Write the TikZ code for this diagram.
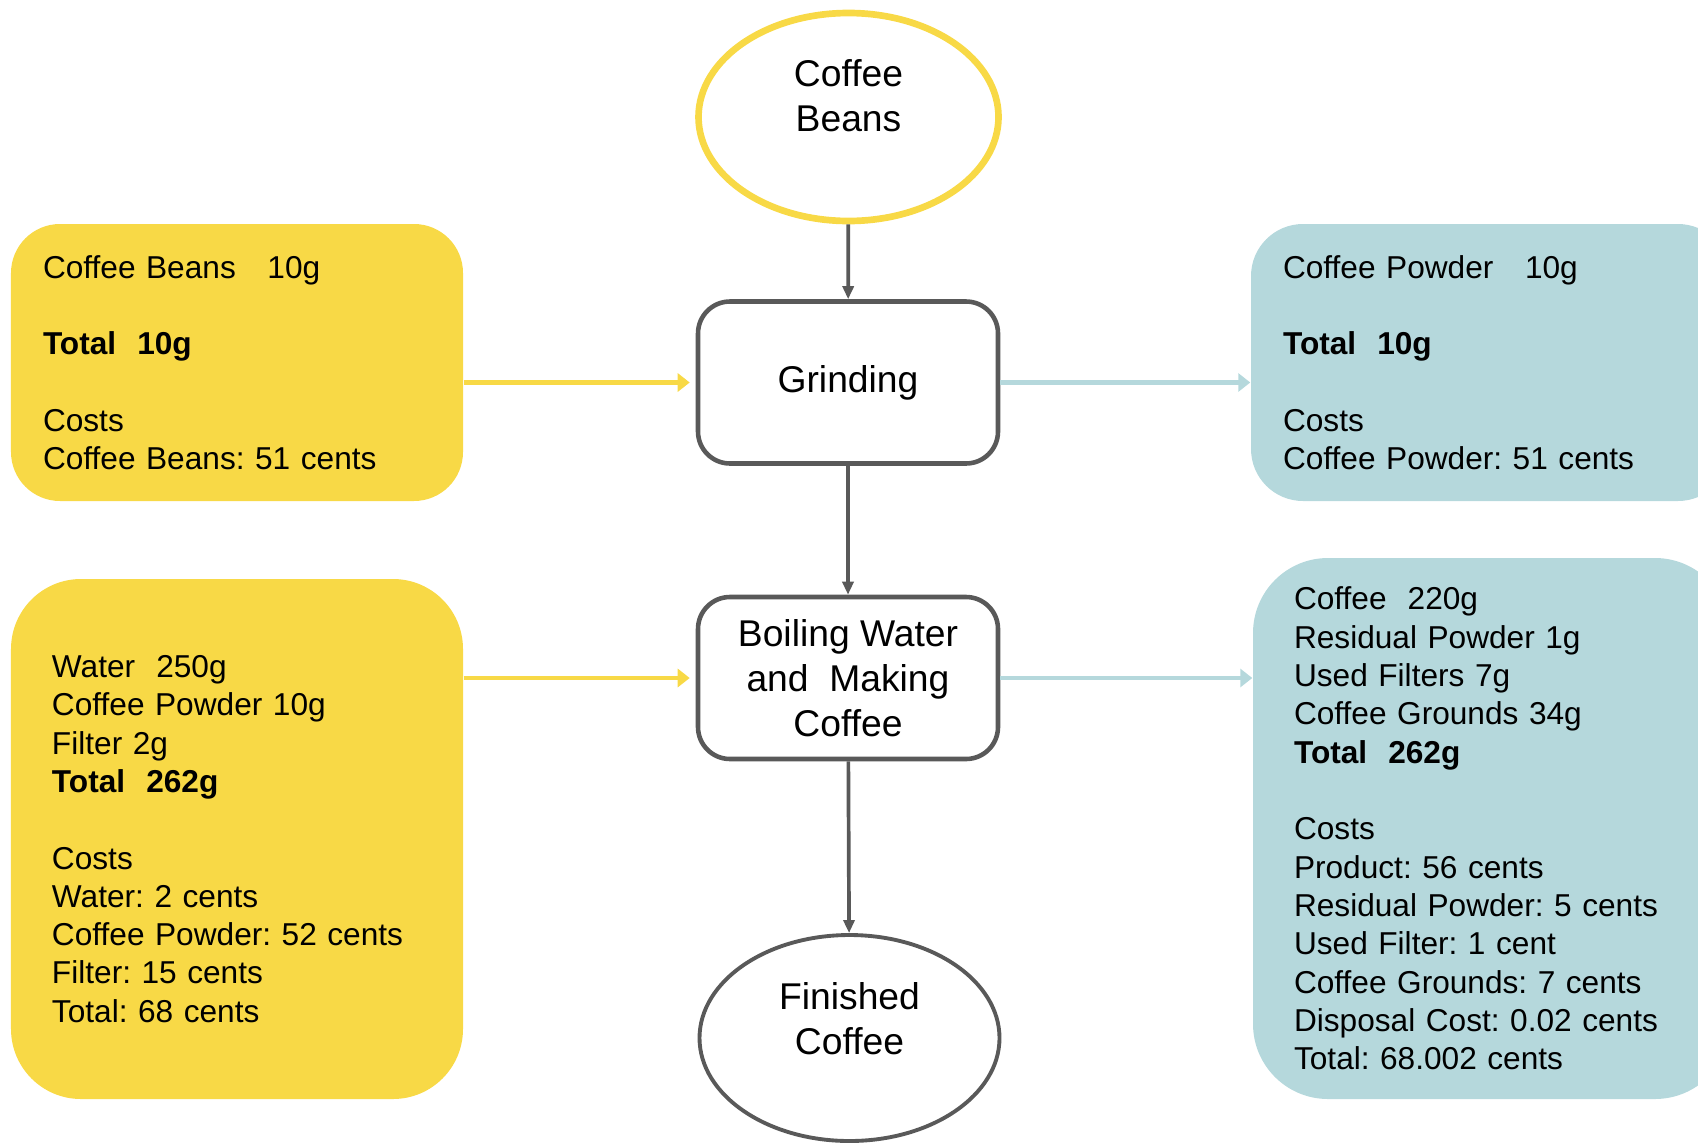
\documentclass[tikz,border=0pt]{standalone}
\usepackage{fontspec}
\setmainfont{Liberation Sans}
\frenchspacing
\usetikzlibrary{arrows.meta,shapes.geometric}
\definecolor{beanyellow}{HTML}{F8D946}
\definecolor{powderblue}{HTML}{B5D8DC}
\definecolor{stepgray}{HTML}{595959}

\begin{document}
\begin{tikzpicture}[
  stage/.style={rectangle,rounded corners=0.32cm,draw=stepgray,line width=1.3pt,
    minimum width=3.0cm,minimum height=1.62cm,align=center,
    font=\fontsize{10.6}{12.8}\selectfont},
  endpoint/.style={ellipse,line width=1.3pt,minimum width=3.0cm,minimum height=2.08cm,
    align=center,inner sep=0pt,font=\fontsize{10.6}{12.8}\selectfont},
  inbox/.style={rectangle,fill=beanyellow,align=left,
    font=\fontsize{9}{10.9}\selectfont},
  outbox/.style={rectangle,fill=powderblue,align=left,
    font=\fontsize{9}{10.9}\selectfont},
  gray arrow/.style={draw=stepgray,line width=1.05pt,-{Triangle[length=0.13cm,width=0.11cm]}},
  in arrow/.style={draw=beanyellow,line width=1.4pt,shorten >=0.06cm,-{Triangle[length=0.12cm,width=0.18cm]}},
  out arrow/.style={draw=powderblue,line width=1.4pt,-{Triangle[length=0.12cm,width=0.18cm]}}
]
\useasboundingbox (0,0) rectangle (16.98,-11.46);

\path (8.485,-1.17) node[endpoint,draw=beanyellow,line width=1.9pt] (CB) {Coffee\\Beans\\[-0.02cm]};
\path (8.48,-3.825) node[stage] (G) {Grinding};
\path (8.48,-6.78) node[stage] (BW) {Boiling Water\\and\ \ Making\\Coffee};
\path (8.495,-10.38) node[endpoint,draw=stepgray,line width=1.1pt,minimum height=2.06cm] (FC) {Finished\\Coffee\\[-0.05cm]};

\path (2.37,-3.625) node[inbox,rounded corners=0.49cm,text width=3.88cm,inner xsep=0.32cm,minimum height=2.77cm] (GIn)
  {Coffee Beans\ \ \ 10g\\[10.9pt]
   \textbf{Total\ \ 10g}\\[10.9pt]
   Costs\\
   Coffee Beans: 51 cents};
\path (14.905,-3.625) node[outbox,rounded corners=0.52cm,text width=4.15cm,inner xsep=0.32cm,minimum height=2.77cm] (GOut)
  {Coffee Powder\ \ \ 10g\\[10.9pt]
   \textbf{Total\ \ 10g}\\[10.9pt]
   Costs\\
   Coffee Powder: 51 cents};

\path (2.37,-8.39) node[inbox,rounded corners=0.7cm,text width=3.70cm,inner xsep=0.41cm,minimum height=5.2cm] (BWIn)
  {Water\ \ 250g\\
   Coffee Powder 10g\\
   Filter 2g\\
   \textbf{Total\ \ 262g}\\[10.9pt]
   Costs\\
   Water: 2 cents\\
   Coffee Powder: 52 cents\\
   Filter: 15 cents\\
   Total: 68 cents};
\path (14.915,-8.285) node[outbox,rounded corners=0.75cm,text width=3.95cm,inner xsep=0.41cm,minimum height=5.41cm] (BWOut)
  {Coffee\ \ 220g\\
   Residual Powder 1g\\
   Used Filters 7g\\
   Coffee Grounds 34g\\
   \textbf{Total\ \ 262g}\\[10.9pt]
   Costs\\
   Product: 56 cents\\
   Residual Powder: 5 cents\\
   Used Filter: 1 cent\\
   Coffee Grounds: 7 cents\\
   Disposal Cost: 0.02 cents\\
   Total: 68.002 cents};

\draw[gray arrow] (CB) -- (G);
\draw[gray arrow] (G) -- (BW);
\draw[gray arrow] (BW) -- (FC);

\draw[in arrow] (GIn.east |- G) -- (G.west);
\draw[out arrow] (G.east) -- (GOut.west |- G);
\draw[in arrow] (BWIn.east |- BW) -- (BW.west);
\draw[out arrow] (BW.east) -- (BWOut.west |- BW);
\end{tikzpicture}
\end{document}
